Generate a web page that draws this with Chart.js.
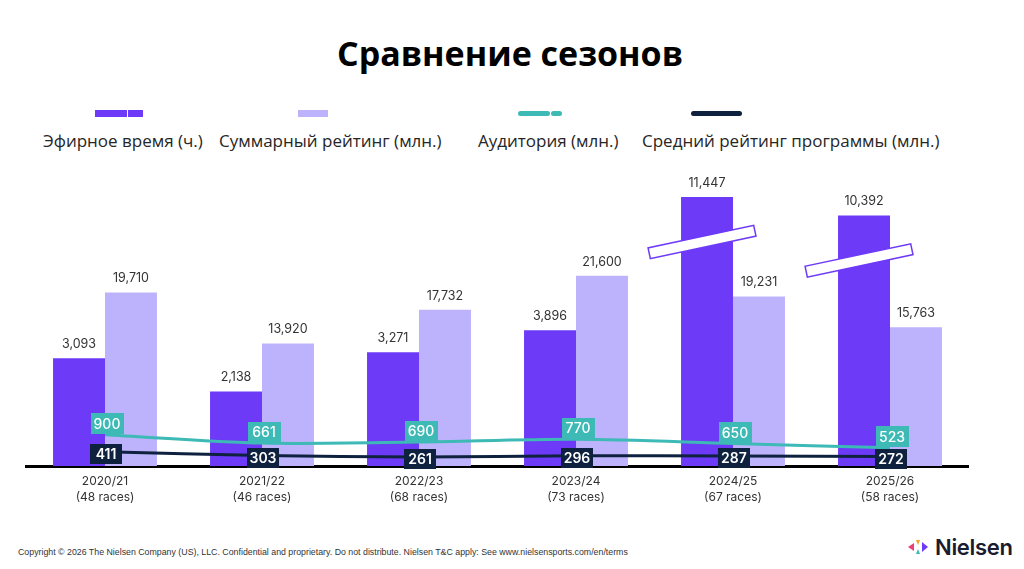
<!DOCTYPE html>
<html lang="ru">

<head>
    <meta charset="UTF-8">
    <title>Сравнение сезонов</title>
    <script src="https://cdn.jsdelivr.net/npm/chart.js"></script>
    <style>
        html, body { margin: 0; padding: 0; background: #fff; }
        body { width: 1024px; height: 569px; position: relative; overflow: hidden; font-family: 'Open Sans', 'Noto Sans', sans-serif; }
        .abs { position: absolute; }
        #title { left: 0; width: 1020px; top: 31px; text-align: center; font-size: 34px; font-weight: 700; color: #000; line-height: 44px; }
        .mark { position: absolute; height: 7px; }
        .leg { position: absolute; top: 130px; font-size: 17px; line-height: 22px; color: #262626; white-space: nowrap; }
        #chartBox { position: absolute; left: 0; top: 143px; width: 1024px; height: 365px; }
        #foot { left: 18px; top: 547px; font-family: 'Liberation Sans', sans-serif; font-size: 8.8px; color: #333; white-space: nowrap; }
        #logo { left: 908px; top: 535px; height: 24px; display: flex; align-items: center; }
        #logo span { font-family: 'Inter', sans-serif; font-weight: 600; font-size: 22px; color: #1b1b2f; margin-left: 5px; letter-spacing: -0.3px; }
    </style>
</head>

<body>
    <div id="title" class="abs">Сравнение сезонов</div>

    <!-- legend, laid out like the slide -->
    <div class="mark" style="left:95px;top:110px;width:32px;background:#6d3af7"></div>
    <div class="mark" style="left:128px;top:110px;width:15px;background:#6d3af7"></div>
    <div class="mark" style="left:298px;top:110px;width:30px;background:#bdb3fc"></div>
    <div class="mark" style="left:518px;top:111px;width:32px;height:5px;border-radius:3px;background:#3db9b6"></div>
    <div class="mark" style="left:551px;top:111px;width:11px;height:5px;border-radius:3px;background:#3db9b6"></div>
    <div class="mark" style="left:691px;top:111px;width:51px;height:5px;border-radius:3px;background:#0e2240"></div>
    <div class="leg" style="left:43px">Эфирное время (ч.)</div>
    <div class="leg" style="left:219px">Суммарный рейтинг (млн.)</div>
    <div class="leg" style="left:478px">Аудитория (млн.)</div>
    <div class="leg" style="left:642px">Средний рейтинг программы (млн.)</div>

    <div id="chartBox"><canvas id="myChart"></canvas></div>

    <div id="foot" class="abs">Copyright © 2026 The Nielsen Company (US), LLC. Confidential and proprietary. Do not distribute. Nielsen T&amp;C apply: See www.nielsensports.com/en/terms</div>
    <div id="logo" class="abs">
        <svg width="22" height="16" viewBox="0 0 22 16">
            <polygon points="0,8 6,4 6,12" fill="#e8407a" />
            <polygon points="8,1 12,1 10,6" fill="#f5a623" />
            <polygon points="8,15 12,15 10,10" fill="#3db9b6" />
            <polygon points="14,3 20,8 14,13" fill="#6d3af7" />
        </svg>
        <span>Nielsen</span>
    </div>

    <script>
        const seasons = ['2020/21', '2021/22', '2022/23', '2023/24', '2024/25', '2025/26'];
        const races = ['(48 races)', '(46 races)', '(68 races)', '(73 races)', '(67 races)', '(58 races)'];
        const airtime = [3093, 2138, 3271, 3896, 11447, 10392];        // Эфирное время (ч.)
        const totalRating = [19710, 13920, 17732, 21600, 19231, 15763]; // Суммарный рейтинг (млн.)
        const audience = [900, 661, 690, 770, 650, 523];                // Аудитория (млн.)
        const avgRating = [411, 303, 261, 296, 287, 272];               // Средний рейтинг программы (млн.)

        const PURPLE = '#6d3af7';
        const LILAC = '#bdb3fc';
        const TEAL = '#3db9b6';
        const NAVY = '#0e2240';

        // the two tallest airtime bars are drawn with a broken axis
        const BREAK_AT = 4000;
        const SQUASH = 0.5;

        class BrokenScale extends Chart.LinearScale {
            getPixelForValue(value) {
                if (value > BREAK_AT) value = BREAK_AT + (value - BREAK_AT) * SQUASH;
                return super.getPixelForValue(value);
            }
        }
        BrokenScale.id = 'broken';
        BrokenScale.defaults = Chart.LinearScale.defaults;
        Chart.register(BrokenScale);

        const fmt = (v) => v.toLocaleString('en-US');

        function box(ctx, x, y, w, h, fill, text, weight) {
            ctx.fillStyle = fill;
            ctx.fillRect(Math.round(x - w / 2), Math.round(y - h / 2), w, h);
            ctx.fillStyle = '#fff';
            ctx.font = weight + ' 14px Inter';
            ctx.textAlign = 'center';
            ctx.textBaseline = 'middle';
            ctx.fillText(text, x, y + 1);
        }

        const labelsPlugin = {
            id: 'slideLabels',
            afterDatasetsDraw(chart) {
                const ctx = chart.ctx;
                ctx.save();

                // break marks on the cut bars
                chart.getDatasetMeta(0).data.forEach((bar, i) => {
                    if (airtime[i] <= BREAK_AT) return;
                    ctx.save();
                    ctx.translate(bar.x - 5, bar.y + 45);
                    ctx.rotate(-12 * Math.PI / 180);
                    ctx.fillStyle = '#fff';
                    ctx.strokeStyle = PURPLE;
                    ctx.lineWidth = 1.5;
                    ctx.fillRect(-54, -5.5, 108, 11);
                    ctx.strokeRect(-54, -5.5, 108, 11);
                    ctx.restore();
                });

                // values above bars
                [[0, airtime], [1, totalRating]].forEach(([di, vals]) => {
                    chart.getDatasetMeta(di).data.forEach((bar, i) => {
                        ctx.fillStyle = '#333';
                        ctx.font = '12.5px Inter';
                        ctx.textAlign = 'center';
                        ctx.textBaseline = 'middle';
                        ctx.fillText(fmt(vals[i]), bar.x, bar.y - 14);
                    });
                });

                // boxed values on the lines
                chart.getDatasetMeta(2).data.forEach((pt, i) => {
                    box(ctx, pt.x + 2, pt.y - 11, 33, 21, TEAL, String(audience[i]), 500);
                });
                chart.getDatasetMeta(3).data.forEach((pt, i) => {
                    box(ctx, pt.x + 1, pt.y + 2, 32, 20, NAVY, String(avgRating[i]), 600);
                });
                ctx.restore();
            }
        };

        const canvas = document.getElementById('myChart');

        new Chart(canvas, {
            data: {
                labels: seasons.map((s, i) => [s, races[i]]),
                datasets: [
                    {
                        type: 'bar',
                        label: 'Эфирное время (ч.)',
                        data: airtime,
                        backgroundColor: PURPLE,
                        yAxisID: 'y',
                        order: 2
                    },
                    {
                        type: 'bar',
                        label: 'Суммарный рейтинг (млн.)',
                        data: totalRating,
                        backgroundColor: LILAC,
                        yAxisID: 'y2',
                        order: 2
                    },
                    {
                        type: 'line',
                        label: 'Аудитория (млн.)',
                        data: audience,
                        borderColor: TEAL,
                        borderWidth: 3,
                        pointRadius: 0,
                        tension: 0.3,
                        yAxisID: 'y',
                        order: 1
                    },
                    {
                        type: 'line',
                        label: 'Средний рейтинг программы (млн.)',
                        data: avgRating,
                        borderColor: NAVY,
                        borderWidth: 3,
                        pointRadius: 0,
                        tension: 0.2,
                        yAxisID: 'y',
                        order: 0
                    }
                ]
            },
            options: {
                responsive: true,
                maintainAspectRatio: false,
                animation: false,
                layout: { padding: { left: 26.5, right: 55.5, top: 27, bottom: 4 } },
                datasets: {
                    bar: { categoryPercentage: 0.662, barPercentage: 1.0 }
                },
                plugins: {
                    legend: { display: false },
                    tooltip: { enabled: false }
                },
                scales: {
                    x: {
                        z: 1,
                        grid: { display: false },
                        border: { display: true, color: '#000', width: 3 },
                        ticks: {
                            color: '#333',
                            padding: -1,
                            font: { family: 'Inter', size: 12, lineHeight: 1.33 }
                        }
                    },
                    y: { type: 'broken', display: false, min: 0, max: 8500 },
                    y2: { type: 'linear', display: false, min: 0, max: 33600 }
                }
            },
            plugins: [labelsPlugin]
        });
    </script>
</body>

</html>
